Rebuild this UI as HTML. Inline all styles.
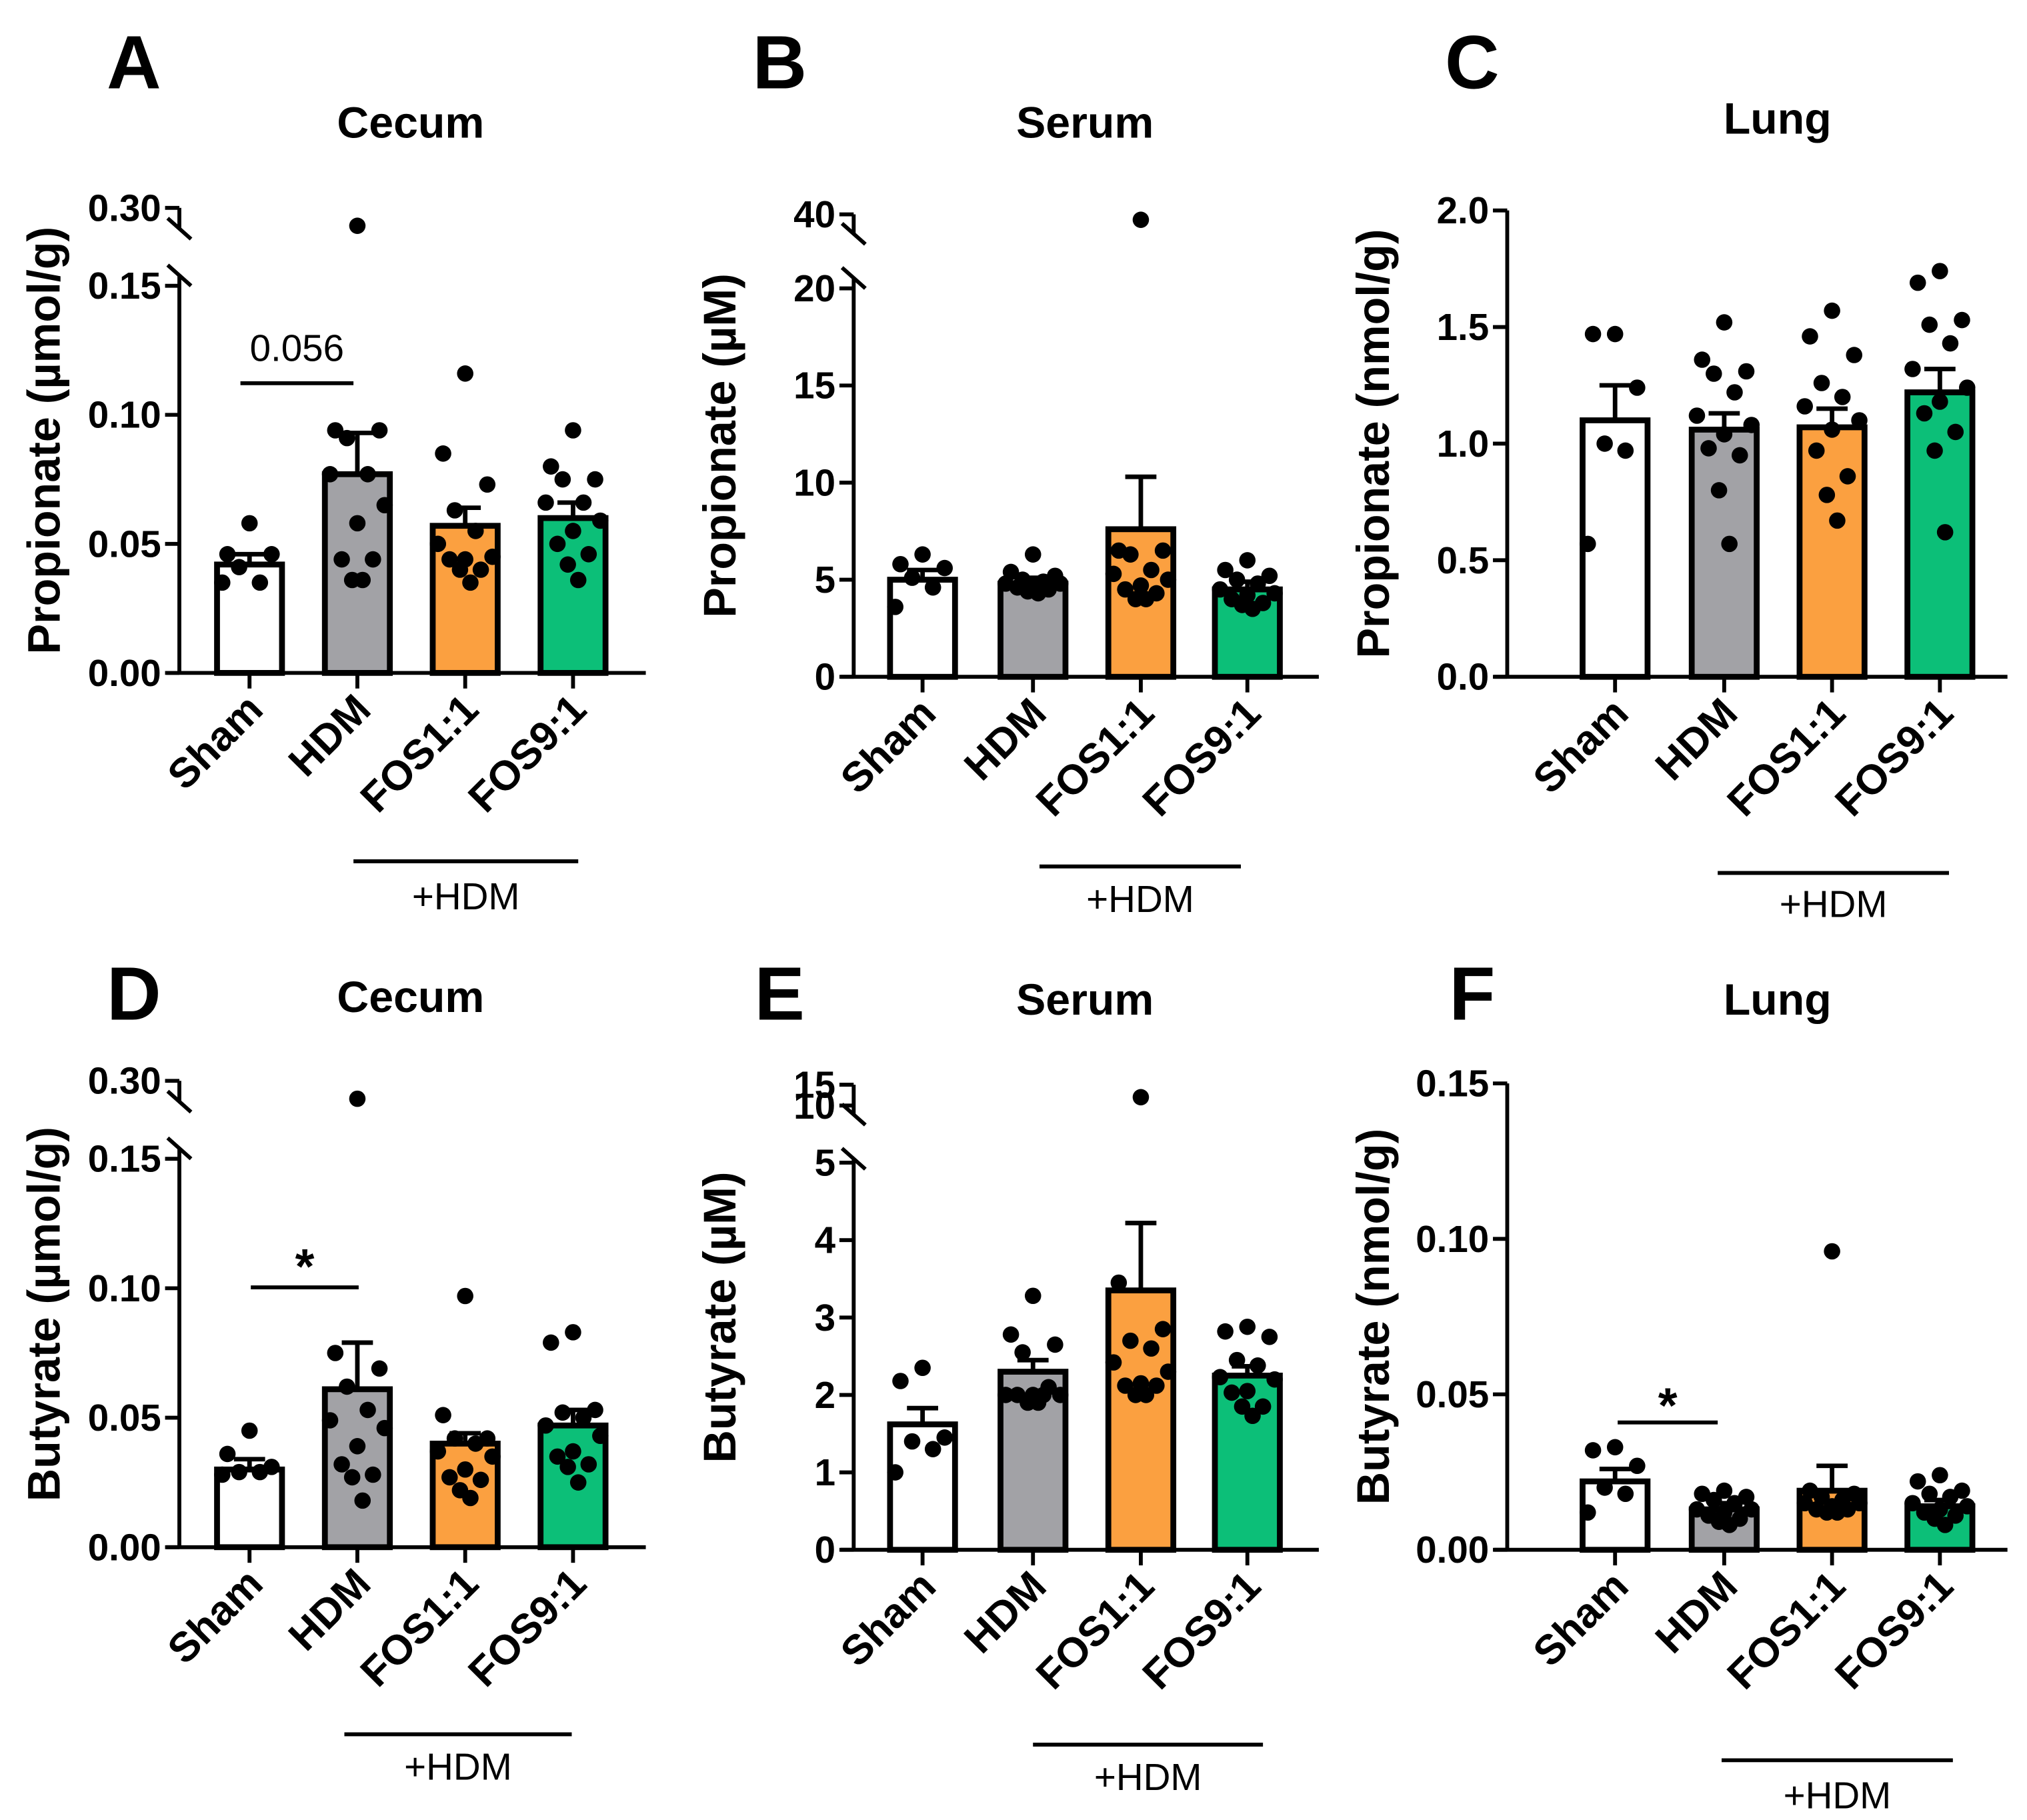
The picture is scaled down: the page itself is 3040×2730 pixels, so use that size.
<!DOCTYPE html>
<html><head><meta charset="utf-8"><style>
html,body{margin:0;padding:0;background:#fff;}
svg{display:block;font-family:"Liberation Sans",Arial,sans-serif;}
</style></head><body>
<svg id="fig" width="3040" height="2730" viewBox="0 0 1560 1401" xmlns="http://www.w3.org/2000/svg"></svg>
<script>
const categories = ["Sham","HDM","FOS1:1","FOS9:1"];
const fills = ["#ffffff","#a2a2a6","#fba040","#0cbf78"];
// bar means
const meansA = [0.042,0.077,0.057,0.060];
const meansB = [5.0,4.8,7.6,4.5];
const meansC = [1.10,1.06,1.07,1.22];
const meansD = [0.030,0.061,0.040,0.047];
const meansE = [1.62,2.30,3.35,2.25];
const meansF = [0.022,0.013,0.019,0.014];
// error tops (mean + SEM)
const errA = [0.046,0.093,0.064,0.066];
const errB = [5.5,5.1,10.3,4.9];
const errC = [1.25,1.13,1.15,1.32];
const errD = [0.034,0.079,0.044,0.053];
const errE = [1.83,2.45,4.22,2.37];
const errF = [0.026,0.015,0.027,0.016];
// individual points
const ptsA = [[0.058,0.046,0.046,0.041,0.035,0.035],[0.27,0.094,0.094,0.091,0.077,0.077,0.065,0.058,0.044,0.044,0.036,0.036],[0.116,0.085,0.073,0.063,0.055,0.050,0.045,0.044,0.044,0.040,0.040,0.035],[0.094,0.080,0.075,0.075,0.066,0.066,0.059,0.055,0.050,0.046,0.042,0.036]];
const ptsB = [[6.3,5.8,5.6,5.1,4.6,3.6],[6.3,5.4,5.2,5.0,4.9,4.8,4.8,4.7,4.6,4.5,4.4,4.3],[38,6.5,6.5,6.3,5.5,5.3,5.0,4.7,4.5,4.3,4.0,4.0],[6.0,5.5,5.2,5.0,4.8,4.5,4.3,4.2,4.0,3.8,3.7,3.5]];
const ptsC = [[1.47,1.47,1.24,1.0,0.97,0.57],[1.52,1.36,1.31,1.30,1.22,1.12,1.08,1.04,0.98,0.95,0.80,0.57],[1.57,1.46,1.38,1.26,1.20,1.16,1.10,1.06,0.97,0.86,0.78,0.67],[1.74,1.69,1.53,1.51,1.43,1.32,1.24,1.18,1.13,1.05,0.97,0.62]];
const ptsD = [[0.045,0.036,0.031,0.029,0.029,0.028],[0.27,0.075,0.069,0.062,0.053,0.049,0.046,0.039,0.032,0.028,0.027,0.018],[0.097,0.051,0.042,0.042,0.040,0.037,0.035,0.030,0.027,0.026,0.022,0.019],[0.083,0.079,0.053,0.052,0.050,0.047,0.043,0.037,0.035,0.032,0.031,0.025]];
const ptsE = [[2.35,2.18,1.45,1.4,1.3,1.0],[3.28,2.78,2.65,2.55,2.0,2.0,2.0,2.0,2.0,2.1,1.9,1.9],[12,3.45,2.85,2.7,2.6,2.42,2.3,2.15,2.12,2.12,2.0,2.0],[2.88,2.82,2.75,2.45,2.38,2.23,2.2,2.05,2.03,1.85,1.85,1.73]];
const ptsF = [[0.033,0.032,0.027,0.020,0.018,0.012],[0.019,0.018,0.017,0.016,0.015,0.013,0.013,0.012,0.011,0.010,0.009,0.008],[0.096,0.019,0.018,0.017,0.016,0.015,0.015,0.014,0.013,0.013,0.012,0.012],[0.024,0.022,0.019,0.018,0.017,0.015,0.014,0.013,0.012,0.011,0.010,0.008]];
// tick labels
const ticksA = ["0.00","0.05","0.10","0.15","0.30"];
const ticksB = ["0","5","10","15","20","40"];
const ticksC = ["0.0","0.5","1.0","1.5","2.0"];
const ticksD = ["0.00","0.05","0.10","0.15","0.30"];
const ticksE = ["0","1","2","3","4","5","10","15"];
const ticksF = ["0.00","0.05","0.10","0.15"];

const NS="http://www.w3.org/2000/svg";
const svg=document.getElementById('fig');
function mk(tag,attrs,parent,text){const e=document.createElementNS(NS,tag);for(const k in attrs)e.setAttribute(k,attrs[k]);if(text!==undefined)e.textContent=text;(parent||svg).appendChild(e);return e;}

const panels=[
 {id:'a',letter:'A',title:'Cecum',ylab:'Propionate (µmol/g)',ax:138,bx:[192,275,358,441],xEnd:497,y0:518,
  lo:[0,0.15,518,220],hi:[0.25,0.30,183,160],brk:[180,208],means:meansA,err:errA,pts:ptsA,ticks:ticksA,
  lx:103,ly:48,tx:316,ty:95,hdm:[272,445,663,690],sig:{x1:185,x2:272,y:295,t:'0.056',ty:268,bold:false}},
 {id:'b',letter:'B',title:'Serum',ylab:'Propionate (µM)',ax:657,bx:[710,795,878,960],xEnd:1015,y0:521,
  lo:[0,20,521,222],hi:[30,40,186,165],brk:[184,210],means:meansB,err:errB,pts:ptsB,ticks:ticksB,
  lx:600,ly:48,tx:835,ty:95,hdm:[800,955,667,692]},
 {id:'c',letter:'C',title:'Lung',ylab:'Propionate (nmol/g)',ax:1160,bx:[1243,1327,1410,1493],xEnd:1545,y0:521,
  lo:[0,2,521,162],hi:null,brk:null,means:meansC,err:errC,pts:ptsC,ticks:ticksC,
  lx:1133,ly:48,tx:1368,ty:92,hdm:[1322,1500,672,696]},
 {id:'d',letter:'D',title:'Cecum',ylab:'Butyrate (µmol/g)',ax:138,bx:[192,275,358,441],xEnd:497,y0:1191,
  lo:[0,0.15,1191,892],hi:[0.25,0.30,855,832],brk:[852,880],means:meansD,err:errD,pts:ptsD,ticks:ticksD,
  lx:103,ly:765,tx:316,ty:768,hdm:[265,440,1335,1360],sig:{x1:193,x2:276,y:991,t:'*',ty:968,bold:true}},
 {id:'e',letter:'E',title:'Serum',ylab:'Butyrate (µM)',ax:657,bx:[710,795,878,960],xEnd:1015,y0:1193,
  lo:[0,5,1193,895],hi:[10,15,851,835],brk:[862,888],means:meansE,err:errE,pts:ptsE,ticks:ticksE,
  lx:600,ly:765,tx:835,ty:770,hdm:[795,972,1343,1368]},
 {id:'f',letter:'F',title:'Lung',ylab:'Butyrate (nmol/g)',ax:1160,bx:[1243,1327,1410,1493],xEnd:1545,y0:1193,
  lo:[0,0.15,1193,834],hi:null,brk:null,means:meansF,err:errF,pts:ptsF,ticks:ticksF,
  lx:1133,ly:765,tx:1368,ty:770,hdm:[1325,1503,1355,1382],sig:{x1:1245,x2:1322,y:1095,t:'*',ty:1075,bold:true}}
];
const jit=[0,-17,17,-8,8,-21,21,0,-12,12,-4,4];

panels.forEach(p=>{
  const g=mk('g',{});
  
  
  function y(v){
    if(p.hi && v>p.lo[1]){const h=p.hi;return h[2]+(v-h[0])/(h[1]-h[0])*(h[3]-h[2]);}
    const l=p.lo;return l[2]+(v-l[0])/(l[1]-l[0])*(l[3]-l[2]);
  }
  const t=mk('text',{x:p.lx,y:p.ly+20,'text-anchor':'middle','font-size':58,'font-weight':'bold'},g,p.letter);
  
  
  const ti=mk('text',{x:p.tx,y:p.ty+11,'text-anchor':'middle','font-size':34,'font-weight':'bold'},g,p.title);
  
  
  const ycy=(p.y0+ (p.hi?p.hi[3]:p.lo[3]))/2;
  const yl=mk('text',{x:0,y:0,transform:`translate(${p.ax<600?46:p.ax-91},${ycy}) rotate(-90)`,'text-anchor':'middle','font-size':35,'font-weight':'bold'},g,p.ylab);
  
  
  p.means.forEach((m,i)=>{
    const cx=p.bx[i],w=50;
    const top=y(m);
    const ey=y(p.err[i]);
    const el=mk('line',{x1:cx,x2:cx,y1:top,y2:ey,stroke:'#000','stroke-width':3.5},g);
    
    
    mk('line',{x1:cx-12,x2:cx+12,y1:ey,y2:ey,stroke:'#000','stroke-width':3.5},g);
    const r=mk('rect',{x:cx-w/2,y:top,width:w,height:p.y0-top,fill:fills[i],stroke:'#000','stroke-width':4.5},g);
    
    
  });
  p.pts.forEach((arr,i)=>{
    arr.forEach((v,k)=>{
      const c=mk('circle',{cx:p.bx[i]+jit[k%jit.length],cy:y(v),r:6.3,fill:'#000'},g);
      
      
    });
  });
  const topY=p.hi?p.hi[3]:p.lo[3];
  if(p.brk){
    mk('line',{x1:p.ax,x2:p.ax,y1:topY,y2:p.brk[0]-4,stroke:'#000','stroke-width':3},g);
    mk('line',{x1:p.ax,x2:p.ax,y1:p.brk[1]+4,y2:p.y0,stroke:'#000','stroke-width':3},g);
    mk('line',{x1:p.ax-9,x2:p.ax+9,y1:p.brk[0]-12,y2:p.brk[0]+4,stroke:'#000','stroke-width':3},g);
    mk('line',{x1:p.ax-9,x2:p.ax+9,y1:p.brk[1]-4,y2:p.brk[1]+12,stroke:'#000','stroke-width':3},g);
  } else {
    mk('line',{x1:p.ax,x2:p.ax,y1:topY,y2:p.y0,stroke:'#000','stroke-width':3},g);
  }
  const xa=mk('line',{x1:p.ax-10,x2:p.xEnd,y1:p.y0,y2:p.y0,stroke:'#000','stroke-width':3},g);
  
  
  p.ticks.forEach(tl=>{
    const v=parseFloat(tl);const ty=y(v);
    mk('line',{x1:p.ax-11,x2:p.ax,y1:ty,y2:ty,stroke:'#000','stroke-width':3},g);
    const tt=mk('text',{x:p.ax-14,y:ty+10,'text-anchor':'end','font-size':29,'font-weight':'bold'},g,tl);
    
    
  });
  categories.forEach((c,i)=>{
    const cx=p.bx[i];
    mk('line',{x1:cx,x2:cx,y1:p.y0,y2:p.y0+12,stroke:'#000','stroke-width':3},g);
    const ct=mk('text',{x:0,y:0,transform:`translate(${cx+12},${p.y0+30}) rotate(-45)`,'text-anchor':'end','font-size':32,'font-weight':'bold'},g,c);
    
    
  });
  const h=p.hdm;
  mk('line',{x1:h[0],x2:h[1],y1:h[2],y2:h[2],stroke:'#000','stroke-width':3},g);
  const ht=mk('text',{x:(h[0]+h[1])/2,y:h[3]+10,'text-anchor':'middle','font-size':29},g,'+HDM');
  
  
  if(p.sig){
    const s=p.sig;
    mk('line',{x1:s.x1,x2:s.x2,y1:s.y,y2:s.y,stroke:'#000','stroke-width':3},g);
    const st=mk('text',{x:(s.x1+s.x2)/2,y:s.ty+(s.bold?20:10),'text-anchor':'middle','font-size':s.bold?38:29,'font-weight':s.bold?'bold':'normal'},g,s.t);
    
    
  }
});
</script>
</body></html>
